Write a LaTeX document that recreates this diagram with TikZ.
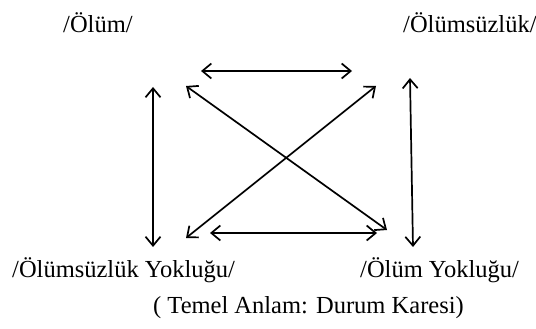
\documentclass[tikz,border=0pt]{standalone}
\usepackage{fontspec}
\setmainfont{Liberation Serif}
\usetikzlibrary{arrows.meta}
\begin{document}
\begin{tikzpicture}[x=1pt,y=-1pt,
  lbl/.style={inner sep=0pt,font=\fontsize{24.5}{28}\selectfont},
  rel/.style={line width=1.7pt,{Straight Barb[length=9pt,width=15pt]}-{Straight Barb[length=9pt,width=15pt]}}]
\useasboundingbox (0,0) rectangle (536,329);
\node[lbl,anchor=base west] (olum) at (63,33) {/Ölüm/};
\node[lbl,anchor=base west] (olumsuz) at (403,33) {/Ölümsüzlük/};
\node[lbl,anchor=base west] (olumsuzyok) at (12,277) {/Ölümsüzlük Yokluğu/};
\node[lbl,anchor=base west] (olumyok) at (360,277) {/Ölüm Yokluğu/};
\node[lbl,anchor=base west] (caption) at (153,313) {( Temel Anlam: Durum Karesi)};
\coordinate (t1) at (201,71); \coordinate (t2) at (352,71);
\coordinate (l1) at (153,87); \coordinate (l2) at (153,247);
\coordinate (r1) at (410,78); \coordinate (r2) at (413,247);
\coordinate (d1a) at (186,86); \coordinate (d1b) at (387,230);
\coordinate (d2a) at (376,86); \coordinate (d2b) at (186,238);
\coordinate (b1) at (210,233); \coordinate (b2) at (377,233);
\draw[rel] (t1) -- (t2);
\draw[rel] (l1) -- (l2);
\draw[rel] (r1) -- (r2);
\draw[rel] (d1a) -- (d1b);
\draw[rel] (d2a) -- (d2b);
\draw[rel] (b1) -- (b2);
\end{tikzpicture}
\end{document}
